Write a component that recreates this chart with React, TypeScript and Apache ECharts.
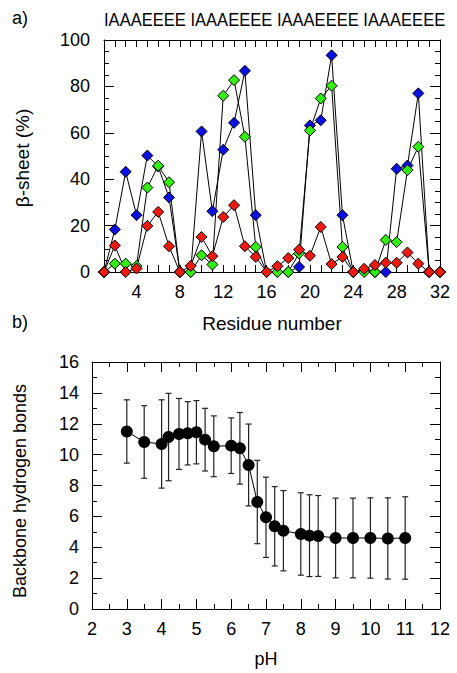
import React, { useEffect, useRef } from "react";
import * as echarts from "echarts";

const residues = [1, 2, 3, 4, 5, 6, 7, 8, 9, 10, 11, 12, 13, 14, 15, 16, 17, 18, 19, 20, 21, 22, 23, 24, 25, 26, 27, 28, 29, 30, 31, 32];
const blueSheet = [0, 18.3, 43.2, 24.5, 50.2, 45.5, 32.1, 0, 0, 60.6, 26.2, 52.7, 64.3, 86.7, 24.5, 0, 0, 0, 2.2, 63.2, 65.4, 93.4, 24.5, 0, 0.8, 0, 0, 44.5, 45.9, 77.0, 0, 0];
const greenSheet = [0, 3.6, 3.6, 2.6, 36.4, 45.8, 38.7, 0, 0, 7.2, 3.2, 76.0, 82.7, 58.3, 10.8, 0, 0, 0, 8.0, 61.0, 74.8, 80.3, 10.8, 0, 0, 0, 13.8, 12.9, 43.9, 54.0, 0, 0];
const redSheet = [0, 11.4, 0, 1.5, 19.9, 25.9, 11.1, 0, 2.6, 15.1, 6.8, 23.7, 28.8, 11.1, 6.5, 0, 2.5, 6.0, 9.6, 7.0, 19.4, 3.4, 6.5, 0, 1.4, 3.0, 4.0, 4.0, 8.4, 3.6, 0, 0];

const phValues = [3.0, 3.5, 4.0, 4.2, 4.5, 4.75, 5.0, 5.25, 5.5, 6.0, 6.25, 6.5, 6.75, 7.0, 7.25, 7.5, 8.0, 8.25, 8.5, 9.0, 9.5, 10.0, 10.5, 11.0];
const hbonds = [11.5, 10.82, 10.69, 11.14, 11.34, 11.38, 11.45, 10.97, 10.54, 10.58, 10.41, 9.33, 6.93, 5.94, 5.36, 5.07, 4.86, 4.75, 4.73, 4.6, 4.6, 4.6, 4.57, 4.6];
const hbondsSd = [2.05, 2.35, 2.86, 2.83, 2.3, 2.05, 2.05, 2.03, 1.97, 1.8, 2.32, 2.65, 2.7, 2.6, 2.57, 2.6, 2.67, 2.65, 2.62, 2.58, 2.58, 2.6, 2.63, 2.67];

const sequenceLabel = "IAAAEEEE IAAAEEEE IAAAEEEE IAAAEEEE";

const FONT = "'Liberation Sans', Arial, Helvetica, sans-serif";

export default function App() {
  const ref = useRef<HTMLDivElement>(null);
  useEffect(() => {
    document.body.style.margin = "0";
    if (!ref.current) return;
    const chart = echarts.init(ref.current, undefined, { renderer: "svg" });

    const axisLine = { show: true, onZero: false, lineStyle: { color: "#000", width: 1 } };
    const label = { color: "#000", fontSize: 18, fontFamily: FONT };

    const frameX = (gridIndex: number, min: number, max: number, interval: number, pos: "top" | "bottom", showLabel: boolean, tickLen: number, minor: number, fmt?: (v: number) => string) => ({
      type: "value",
      gridIndex,
      position: pos,
      min,
      max,
      interval,
      axisLine,
      axisTick: { show: true, inside: true, length: tickLen, lineStyle: { color: "#000", width: 1 } },
      minorTick: minor > 0 ? { show: true, splitNumber: minor, length: 5, lineStyle: { color: "#000", width: 1 } } : { show: false },
      axisLabel: showLabel ? { ...label, margin: 11, formatter: fmt ? fmt : (v: number) => String(v), showMinLabel: true, showMaxLabel: true } : { show: false },
      splitLine: { show: false },
    });
    const frameY = (gridIndex: number, min: number, max: number, interval: number, pos: "left" | "right", showLabel: boolean, minor: number, margin: number) => ({
      type: "value",
      gridIndex,
      position: pos,
      min,
      max,
      interval,
      axisLine,
      axisTick: { show: true, inside: true, length: 10, lineStyle: { color: "#000", width: 1 } },
      minorTick: { show: true, splitNumber: minor, length: 5, lineStyle: { color: "#000", width: 1 } },
      axisLabel: showLabel ? { ...label, margin } : { show: false },
      splitLine: { show: false },
    });

    const sheetSeries = (name: string, values: number[], color: string) => ({
      type: "line",
      name,
      xAxisIndex: 0,
      yAxisIndex: 0,
      data: residues.map((r, i) => [r, values[i]]),
      symbol: "diamond",
      symbolSize: 11,
      showAllSymbol: true,
      clip: false,
      lineStyle: { color: "#000", width: 1 },
      itemStyle: { color, borderColor: "#000", borderWidth: 1 },
    });

    const option: any = {
      animation: false,
      backgroundColor: "#fff",
      textStyle: { fontFamily: FONT },
      grid: [
        { left: 104, top: 40, width: 336, height: 232 },
        { left: 92, top: 362, width: 348, height: 247 },
      ],
      xAxis: [
        frameX(0, 1, 32, 1, "bottom", true, 7, 0, (v: number) => (v % 4 === 0 ? String(v) : "")),
        frameX(0, 1, 32, 1, "top", false, 7, 0),
        frameX(1, 2, 12, 1, "bottom", true, 10, 2),
        frameX(1, 2, 12, 1, "top", false, 10, 2),
      ],
      yAxis: [
        frameY(0, 0, 100, 20, "left", true, 4, 14),
        frameY(0, 0, 100, 20, "right", false, 4, 14),
        frameY(1, 0, 16, 2, "left", true, 2, 13),
        frameY(1, 0, 16, 2, "right", false, 2, 13),
      ],
      series: [
        sheetSeries("blue", blueSheet, "#0a10e0"),
        sheetSeries("green", greenSheet, "#33ee11"),
        sheetSeries("red", redSheet, "#ee1a12"),
        {
          type: "custom",
          xAxisIndex: 2,
          yAxisIndex: 2,
          data: phValues.map((p, i) => [p, hbonds[i] - hbondsSd[i], hbonds[i] + hbondsSd[i]]),
          renderItem: (params: any, api: any) => {
            const x = api.value(0);
            const lo = api.coord([x, api.value(1)]);
            const hi = api.coord([x, api.value(2)]);
            const w = 3;
            const st = { stroke: "#222", lineWidth: 1.2 };
            return {
              type: "group",
              children: [
                { type: "line", shape: { x1: lo[0], y1: lo[1], x2: hi[0], y2: hi[1] }, style: st },
                { type: "line", shape: { x1: lo[0] - w, y1: lo[1], x2: lo[0] + w, y2: lo[1] }, style: st },
                { type: "line", shape: { x1: hi[0] - w, y1: hi[1], x2: hi[0] + w, y2: hi[1] }, style: st },
              ],
            };
          },
          z: 1,
        },
        {
          type: "line",
          xAxisIndex: 2,
          yAxisIndex: 2,
          data: phValues.map((p, i) => [p, hbonds[i]]),
          symbol: "circle",
          symbolSize: 12,
          showAllSymbol: true,
          lineStyle: { color: "#000", width: 1 },
          itemStyle: { color: "#000" },
          z: 3,
        },
      ],
      graphic: [
        { type: "text", left: 12, top: 9, style: { text: "a)", font: `18px ${FONT}`, fill: "#000" } },
        { type: "text", x: 104, y: 11, scaleX: 0.92, style: { text: sequenceLabel, font: `18px ${FONT}`, fill: "#000" } },
        { type: "text", x: 22, y: 158, rotation: Math.PI / 2, style: { text: "β-sheet (%)", font: `19px ${FONT}`, fill: "#000", align: "center", verticalAlign: "middle" } },
        { type: "text", x: 272, y: 323, style: { text: "Residue number", font: `19px ${FONT}`, fill: "#000", align: "center", verticalAlign: "middle" } },
        { type: "text", left: 12, top: 313, style: { text: "b)", font: `18px ${FONT}`, fill: "#000" } },
        { type: "text", x: 20, y: 491, rotation: Math.PI / 2, style: { text: "Backbone hydrogen bonds", font: `18px ${FONT}`, fill: "#000", align: "center", verticalAlign: "middle" } },
        { type: "text", x: 266, y: 659, style: { text: "pH", font: `18px ${FONT}`, fill: "#000", align: "center", verticalAlign: "middle" } },
      ],
    };
    chart.setOption(option);
    return () => chart.dispose();
  }, []);
  return <div ref={ref} style={{ width: 457, height: 673 }} />;
}
